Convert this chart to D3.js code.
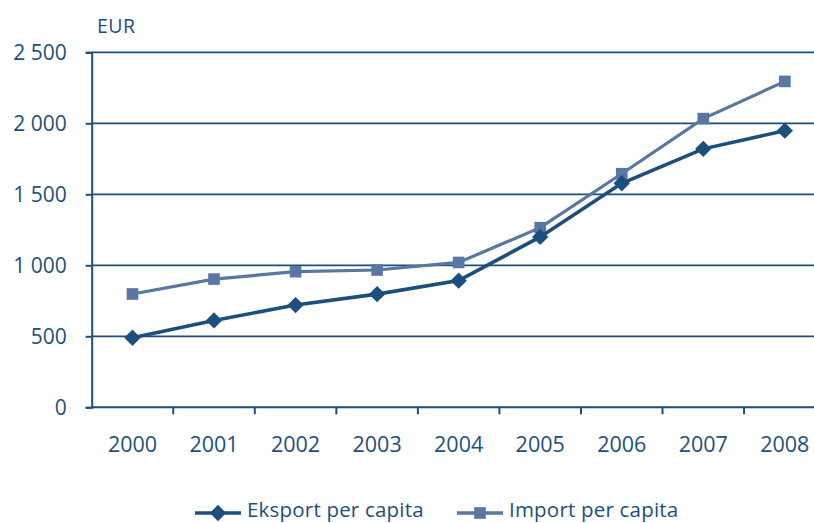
<!DOCTYPE html>
<html>
<head>
<meta charset="utf-8">
<script src="https://cdn.jsdelivr.net/npm/d3@7"></script>
<style>
  body { margin: 0; background: #fff; }
  svg { display: block; font-family: "Open Sans", sans-serif; }
</style>
</head>
<body>
<div id="chart"></div>
<script>
const years = ["2000", "2001", "2002", "2003", "2004", "2005", "2006", "2007", "2008"];
const eksport = [490, 612, 720, 797, 892, 1200, 1578, 1820, 1948];
const importVals = [798, 903, 955, 967, 1020, 1265, 1645, 2033, 2295];
const yTicks = [0, 500, 1000, 1500, 2000, 2500];

const width = 814;
const height = 523;
const axisColor = "#1d4f7c";
const eksportColor = "#1d4f7c";
const importColor = "#5a76a2";

const svg = d3
  .select("#chart")
  .append("svg")
  .attr("width", width)
  .attr("height", height);

const xScale = d3.scaleBand().domain(years).range([91.7, 825.6]);
const yScale = d3.scaleLinear().domain([0, 2500]).range([407.3, 52.3]);

const fmt = (v) => d3.format(",")(v).replace(",", " ");

// gridlines
svg
  .append("g")
  .selectAll("line")
  .data(yTicks.filter((d) => d > 0))
  .enter()
  .append("line")
  .attr("x1", 91.7)
  .attr("x2", width)
  .attr("y1", (d) => yScale(d))
  .attr("y2", (d) => yScale(d))
  .attr("stroke", axisColor)
  .attr("stroke-width", 1.8);

// y axis
const yAxis = svg
  .append("g")
  .attr("transform", "translate(91.7,0)")
  .call(d3.axisLeft(yScale).tickValues(yTicks).tickSize(6).tickPadding(19).tickFormat(fmt));
yAxis.select(".domain").attr("stroke", axisColor).attr("stroke-width", 2);
yAxis.selectAll(".tick line").attr("stroke", axisColor).attr("stroke-width", 2);
yAxis
  .selectAll(".tick text")
  .attr("fill", axisColor)
  .style("font-size", "21px")
  .style("font-family", "Open Sans, sans-serif");

// x axis line
svg
  .append("line")
  .attr("x1", 91.7)
  .attr("x2", width)
  .attr("y1", yScale(0))
  .attr("y2", yScale(0))
  .attr("stroke", axisColor)
  .attr("stroke-width", 2);

// x ticks between categories
svg
  .append("g")
  .selectAll("line")
  .data(years.slice(1))
  .enter()
  .append("line")
  .attr("x1", (d) => xScale(d))
  .attr("x2", (d) => xScale(d))
  .attr("y1", yScale(0))
  .attr("y2", yScale(0) + 7)
  .attr("stroke", axisColor)
  .attr("stroke-width", 2);

svg
  .append("g")
  .selectAll("text")
  .data(years)
  .enter()
  .append("text")
  .attr("x", (d) => xScale(d) + xScale.bandwidth() / 2)
  .attr("y", 452)
  .attr("text-anchor", "middle")
  .attr("fill", axisColor)
  .style("font-size", "21.5px")
  .text((d) => d);

// unit label
svg
  .append("text")
  .attr("x", 97)
  .attr("y", 33)
  .attr("fill", axisColor)
  .style("font-size", "19.5px")
  .style("letter-spacing", "0.5px")
  .text("EUR");

const cx = (i) => xScale(years[i]) + xScale.bandwidth() / 2;
const line = d3
  .line()
  .x((d, i) => cx(i))
  .y((d) => yScale(d));

const diamond = d3.symbol().type(d3.symbolDiamond2).size(170);
const square = d3.symbol().type(d3.symbolSquare).size(135);

// import series
svg
  .append("path")
  .datum(importVals)
  .attr("d", line)
  .attr("fill", "none")
  .attr("stroke", importColor)
  .attr("stroke-width", 3.2);
svg
  .append("g")
  .selectAll("path")
  .data(importVals)
  .enter()
  .append("path")
  .attr("d", square)
  .attr("transform", (d, i) => `translate(${cx(i)},${yScale(d)})`)
  .attr("fill", importColor);

// eksport series
svg
  .append("path")
  .datum(eksport)
  .attr("d", line)
  .attr("fill", "none")
  .attr("stroke", eksportColor)
  .attr("stroke-width", 3.6);
svg
  .append("g")
  .selectAll("path")
  .data(eksport)
  .enter()
  .append("path")
  .attr("d", diamond)
  .attr("transform", (d, i) => `translate(${cx(i)},${yScale(d)})`)
  .attr("fill", eksportColor);

// legend
const legend = [
  { name: "Eksport per capita", color: eksportColor, shape: diamond, x: 195 },
  { name: "Import per capita", color: importColor, shape: square, x: 457 },
];
const lg = svg
  .append("g")
  .selectAll("g")
  .data(legend)
  .enter()
  .append("g")
  .attr("transform", (d) => `translate(${d.x},513)`);
lg.append("line")
  .attr("x1", 0)
  .attr("x2", 46)
  .attr("stroke", (d) => d.color)
  .attr("stroke-width", 3.6);
lg.append("path")
  .attr("d", (d) => d.shape())
  .attr("transform", "translate(23,0)")
  .attr("fill", (d) => d.color);
lg.append("text")
  .attr("x", 52)
  .attr("y", 4)
  .attr("fill", axisColor)
  .style("font-size", "20.5px")
  .style("letter-spacing", "0.2px")
  .text((d) => d.name);
</script>
</body>
</html>
